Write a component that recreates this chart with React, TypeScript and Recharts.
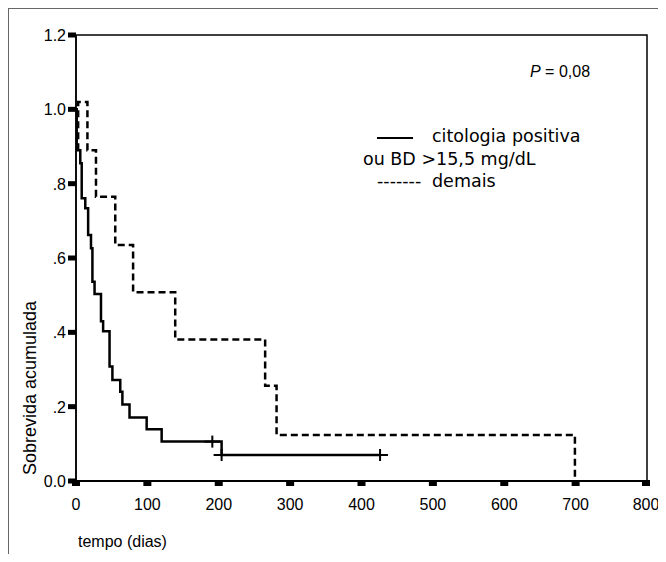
import React from "react";
import { LineChart, Line, XAxis, YAxis, ReferenceArea } from "recharts";

const xTicks = [0, 100, 200, 300, 400, 500, 600, 700, 800];
const yTicks = [0, 0.2, 0.4, 0.6, 0.8, 1.0, 1.2];
const yTickLabels = ["0.0", ".2", ".4", ".6", ".8", "1.0", "1.2"];

// citologia positiva ou BD >15,5 mg/dL
const solidTimes = [0, 1, 6, 8, 13, 17, 21, 23, 26, 35, 38, 47, 51, 62, 65, 75, 99, 120, 191, 204, 426];
const solidSurv = [1.0, 0.89, 0.855, 0.761, 0.734, 0.662, 0.626, 0.536, 0.503, 0.43, 0.403, 0.308, 0.272, 0.24, 0.206, 0.171, 0.139, 0.106, 0.106, 0.07, 0.07];
const solidCensored = [191, 204, 426];

// demais
const dashTimes = [3, 3, 16, 28, 55, 80, 139, 265, 281, 699];
const dashSurv = [0.89, 1.02, 0.89, 0.765, 0.635, 0.508, 0.381, 0.256, 0.124, 0];

const solidData = solidTimes.map((t, i) => ({ t, s: solidSurv[i], c: solidCensored.includes(t) }));
const dashData = dashTimes.map((t, i) => ({ t, s: dashSurv[i] }));

const arial = "'Liberation Sans', Arial, sans-serif";
const verdana = "'DejaVu Sans', Verdana, sans-serif";

function YTick({ x, y, payload }: any) {
  const i = yTicks.indexOf(payload.value);
  return (
    <g>
      <rect x={x - 8} y={y - 2.5} width={8} height={5} fill="#000" />
      <text x={x - 10} y={y + 6} textAnchor="end" fontSize={16} fontFamily={arial} fill="#000">
        {yTickLabels[i]}
      </text>
    </g>
  );
}

function XTick({ x, y, payload }: any) {
  return (
    <g>
      <rect x={x - 4} y={y - 1} width={8} height={6} fill="#000" />
      <text x={x} y={y + 29} textAnchor="middle" fontSize={16} fontFamily={arial} fill="#000">
        {payload.value}
      </text>
    </g>
  );
}

function Censor(props: any) {
  const { cx, cy, payload, index } = props;
  if (!payload || !payload.c) return <g key={"d" + index} />;
  return (
    <g key={"d" + index}>
      <line x1={cx - 8} y1={cy} x2={cx + 8} y2={cy} stroke="#000" strokeWidth={2} />
      <line x1={cx} y1={cy - 6} x2={cx} y2={cy + 6} stroke="#000" strokeWidth={2} />
    </g>
  );
}

const txt = (extra: React.CSSProperties): React.CSSProperties => ({
  position: "absolute",
  whiteSpace: "nowrap",
  color: "#000",
  lineHeight: "20px",
  transform: "translateY(-50%)",
  ...extra,
});

export default function App() {
  return (
    <div style={{ position: "relative", width: 658, height: 546 }}>
      <style>{"html{overflow:hidden} .recharts-wrapper,.recharts-surface{overflow:visible !important}"}</style>
      <div
        style={{
          position: "absolute",
          left: 0,
          top: 0,
          width: 658,
          height: 554,
          boxSizing: "border-box",
          borderTop: "1px solid #666",
          borderLeft: "1px solid #666",
        }}
      />
      <div style={{ position: "absolute", left: 0, top: 0 }}>
        <LineChart width={650} height={554} margin={{ top: 27, right: 11, bottom: 0, left: 0 }}>
          <ReferenceArea x1={0} x2={800} y1={0} y2={1.2} fill="none" stroke="#000" strokeWidth={1.5} ifOverflow="visible" />
          <XAxis
            type="number"
            dataKey="t"
            domain={[0, 800]}
            ticks={xTicks}
            height={81}
            tickSize={0}
            tickMargin={0}
            tickLine={false}
            axisLine={{ stroke: "#000", strokeWidth: 2 }}
            tick={<XTick />}
            allowDataOverflow
          />
          <YAxis
            type="number"
            domain={[0, 1.2]}
            ticks={yTicks}
            width={68}
            tickSize={0}
            tickMargin={0}
            tickLine={false}
            axisLine={{ stroke: "#000", strokeWidth: 1.5 }}
            tick={<YTick />}
            allowDataOverflow
          />
          <Line
            data={dashData}
            dataKey="s"
            type="stepAfter"
            stroke="#000"
            strokeWidth={2.5}
            strokeDasharray="7 4"
            dot={false}
            activeDot={false}
            isAnimationActive={false}
          />
          <Line
            data={solidData}
            dataKey="s"
            type="stepAfter"
            stroke="#000"
            strokeWidth={2.5}
            dot={Censor}
            activeDot={false}
            isAnimationActive={false}
          />
        </LineChart>
      </div>

      <div style={txt({ left: 522, top: 64, fontFamily: arial, fontSize: 16 })}>
        <i>P</i> = 0,08
      </div>

      <div style={{ position: "absolute", left: 369, top: 129, width: 36, height: 2, background: "#000" }} />
      <div style={txt({ left: 424, top: 128, fontFamily: verdana, fontSize: 17.5 })}>citologia positiva</div>
      <div style={txt({ left: 355, top: 151, fontFamily: verdana, fontSize: 17.5 })}>ou BD &gt;15,5 mg/dL</div>
      <div style={txt({ left: 369, top: 173, fontFamily: verdana, fontSize: 17.5 })}>-------</div>
      <div style={txt({ left: 424, top: 173, fontFamily: verdana, fontSize: 17.5 })}>demais</div>

      <div
        style={{
          position: "absolute",
          left: 22,
          top: 380,
          transform: "translate(-50%, -50%) rotate(-90deg)",
          whiteSpace: "nowrap",
          fontFamily: arial,
          fontSize: 18,
          color: "#000",
        }}
      >
        Sobrevida acumulada
      </div>
      <div style={txt({ left: 70, top: 534, fontFamily: arial, fontSize: 16 })}>tempo (dias)</div>
    </div>
  );
}
